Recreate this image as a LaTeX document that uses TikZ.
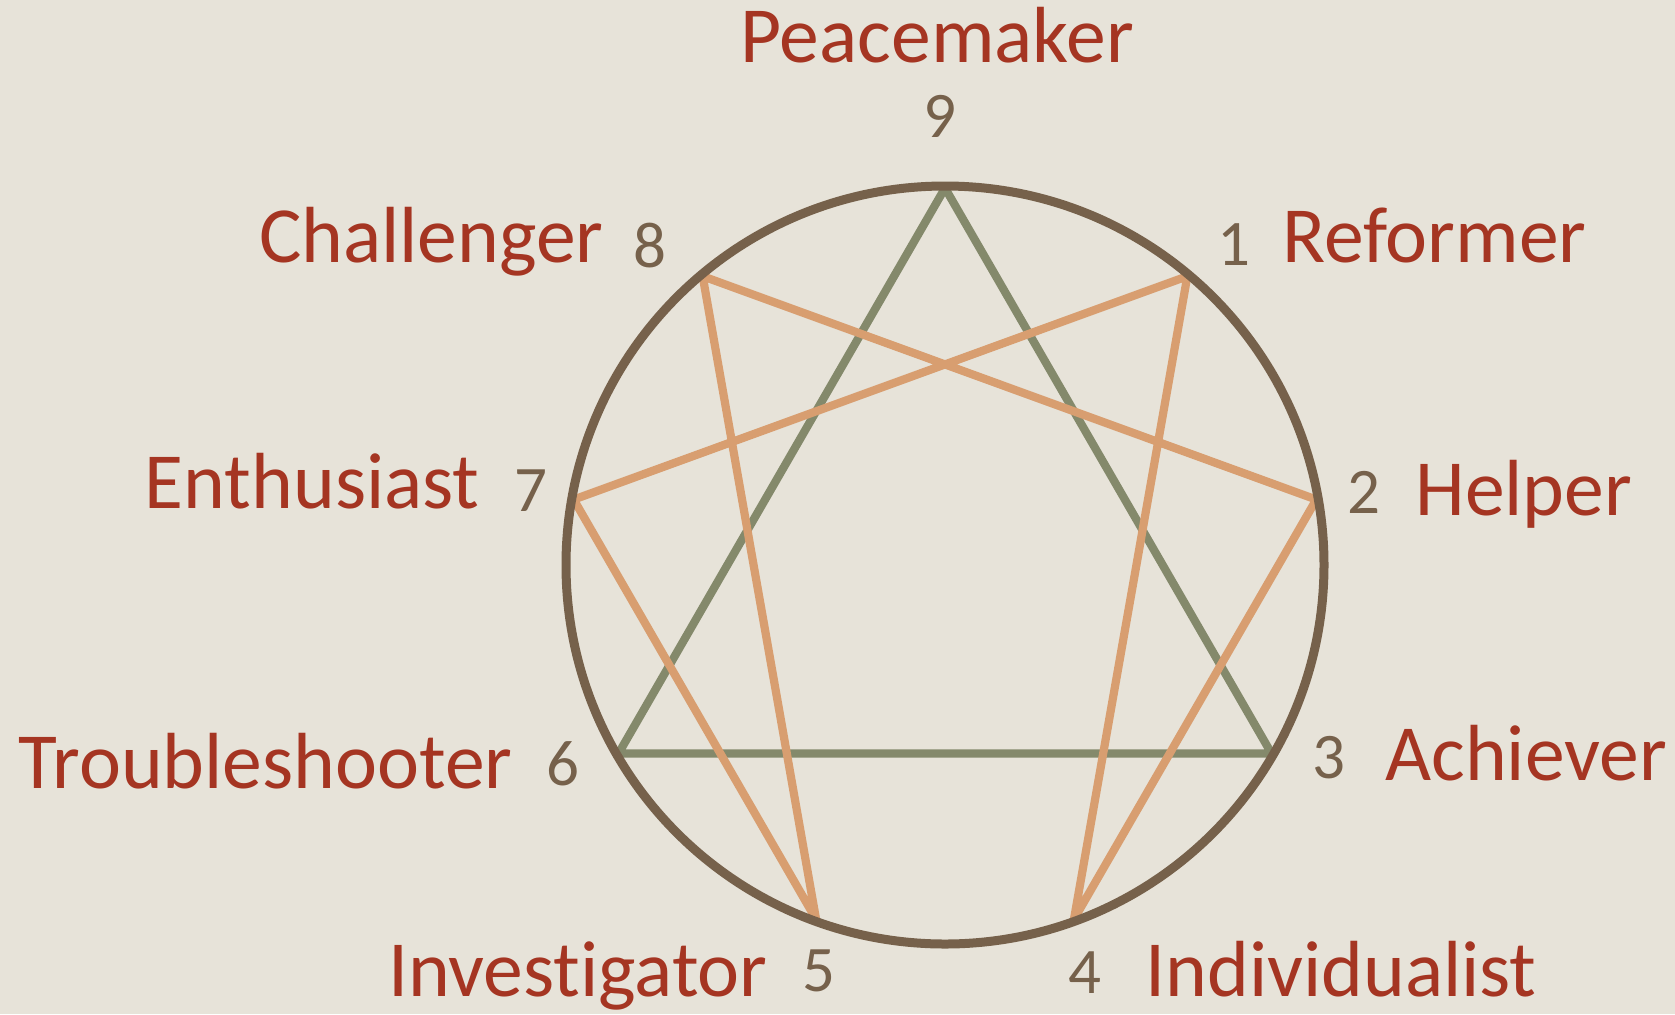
\documentclass[tikz,border=0pt]{standalone}
\usepackage{fontspec}
\setmainfont{Carlito}[Ligatures={NoCommon}]
\definecolor{bgc}{HTML}{E7E3D9}
\definecolor{ringc}{HTML}{76614B}
\definecolor{greenc}{HTML}{84896B}
\definecolor{orangec}{HTML}{D89E70}
\definecolor{labelred}{HTML}{A53522}
\definecolor{numc}{HTML}{76614B}
\begin{document}
\begin{tikzpicture}[x=0.5pt,y=-0.5pt,
  lbl/.style={text=labelred,font=\fontsize{39.8}{47}\selectfont,inner sep=0pt},
  num/.style={text=numc,font=\fontsize{32.5}{39}\selectfont,inner sep=0pt,anchor=base},
  ring/.style={draw=ringc,line width=4.5pt},
  triline/.style={draw=greenc,line width=4.1pt,line join=miter},
  hexline/.style={draw=orangec,line width=4.1pt,line join=miter}]
\fill[bgc] (0,0) rectangle (1675,1014);
\useasboundingbox (0,0) rectangle (1675,1014);
\coordinate (c) at (945,565);
\foreach \k in {1,...,9}{
  \path[shift={(945,565)}] ({40*\k-90}:377) coordinate (p\k);
}
\begin{scope}
  \clip (c) circle[radius=379];
  \path[triline] (p9) -- (p3) -- (p6) -- cycle;
  \path[hexline] (p1) -- (p4) -- (p2) -- (p8) -- (p5) -- (p7) -- cycle;
\end{scope}
\path[ring] (c) circle[radius=379];
% numbers
\node[num] (n9) at (940,137) {9};
\node[num] (n1) at (1234,265) {1};
\node[num] (n2) at (1364,513) {2};
\node[num] (n3) at (1329,778) {3};
\node[num] (n4) at (1085,993) {4};
\node[num] (n5) at (819,991) {5};
\node[num] (n6) at (563,785) {6};
\node[num] (n7) at (531,511) {7};
\node[num] (n8) at (650,267) {8};
% labels
\node[lbl,anchor=base] (l9) at (937,62) {Peacemaker};
\node[lbl,anchor=base west] (l1) at (1282,262) {Reformer};
\node[lbl,anchor=base west] (l2) at (1415,515) {Helper};
\node[lbl,anchor=base west] (l3) at (1385,780) {Achiever};
\node[lbl,anchor=base west] (l4) at (1145,996) {Individualist};
\node[lbl,anchor=base east] (l5) at (768,996) {Investigator};
\node[lbl,anchor=base east] (l6) at (513,788) {Troubleshooter};
\node[lbl,anchor=base east] (l7) at (480,508) {Enthusiast};
\node[lbl,anchor=base east] (l8) at (604,262) {Challenger};
\end{tikzpicture}
\end{document}
